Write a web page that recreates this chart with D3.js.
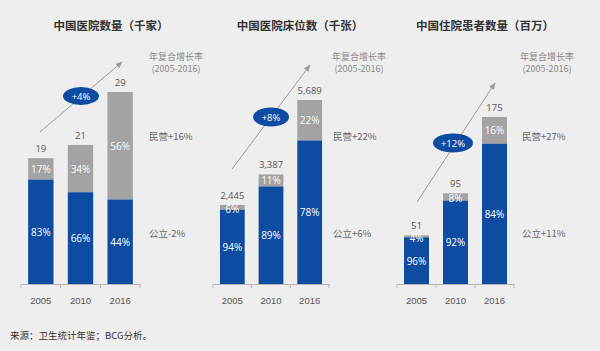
<!DOCTYPE html>
<html><head><meta charset="utf-8">
<script src="https://cdn.jsdelivr.net/npm/d3@7"></script>
<style>
html,body{margin:0;padding:0;background:#efeeef;}
svg{display:block;font-family:"Open Sans","Noto Sans CJK SC",sans-serif;}
</style></head>
<body><svg id="c" width="600" height="351"></svg>
<script>
const categories = ['2005', '2010', '2016'];
const titles = ['中国医院数量（千家）', '中国医院床位数（千张）', '中国住院患者数量（百万）'];
const hospitalTotals = [19, 21, 29];
const hospitalPrivate = [17, 34, 56];
const hospitalPublic = [83, 66, 44];
const bedTotals = [2445, 3387, 5689];
const bedPrivate = [6, 11, 22];
const bedPublic = [94, 89, 78];
const patientTotals = [51, 95, 175];
const patientPrivate = [4, 8, 16];
const patientPublic = [96, 92, 84];
const cagrTotal = ['+4%', '+8%', '+12%'];
const cagrPrivate = ['民营+16%', '民营+22%', '民营+27%'];
const cagrPublic = ['公立-2%', '公立+6%', '公立+11%'];
const cagrHeader = ['年复合增长率', '(2005-2016)'];
const sourceNote = '来源：卫生统计年鉴；BCG分析。';

const BLUE = '#0d4ca0', GRAY = '#a3a3a3';
const svg = d3.select('#c');

const defs = svg.append('defs');
defs.append('marker').attr('id', 'ah').attr('viewBox', '0 0 10 10')
  .attr('refX', 9).attr('refY', 5).attr('markerWidth', 7).attr('markerHeight', 7)
  .attr('orient', 'auto')
  .append('path').attr('d', 'M0,1 L10,5 L0,9 Z').attr('fill', '#999');

const panels = [
  {totals: hospitalTotals, priv: hospitalPrivate, pub: hospitalPublic, fmt: d3.format('d'),
   x0: 21, x1: 140, yTop: 92, titleX: 111, noteX: 176, sideX: 149,
   arrow: [[40, 132], [122, 62]], ell: [81, 96, 18, 9]},
  {totals: bedTotals, priv: bedPrivate, pub: bedPublic, fmt: d3.format(','),
   x0: 213, x1: 329, yTop: 100, titleX: 300, noteX: 359, sideX: 333,
   arrow: [[232, 169], [310, 65]], ell: [271, 117, 18, 9.5]},
  {totals: patientTotals, priv: patientPrivate, pub: patientPublic, fmt: d3.format('d'),
   x0: 397, x1: 514, yTop: 117, titleX: 485, noteX: 547, sideX: 522,
   arrow: [[417, 202], [495, 83]], ell: [453, 143, 20, 9.5]}
];
const base = 284;

panels.forEach((p, i) => {
  const g = svg.append('g');
  const x = d3.scaleBand().domain(categories).range([p.x0, p.x1]).paddingInner(0.36).paddingOuter(0.18);
  const maxT = d3.max(p.totals);
  const y = d3.scaleLinear().domain([0, maxT]).range([base, p.yTop]);

  g.append('text').attr('x', p.titleX).attr('y', 30).attr('text-anchor', 'middle')
    .attr('font-family', '"Noto Sans CJK SC",sans-serif')
    .attr('font-size', 11.5).attr('font-weight', 'bold').attr('fill', '#333').text(titles[i]);

  cagrHeader.forEach((t, k) => {
    g.append('text').attr('x', p.noteX).attr('y', 60 + k * 12).attr('text-anchor', 'middle')
      .attr('font-family', '"Noto Sans CJK SC",sans-serif')
      .attr('font-size', 9).attr('fill', '#8a8a8a').text(t);
  });

  g.append('line').attr('x1', p.arrow[0][0]).attr('y1', p.arrow[0][1])
    .attr('x2', p.arrow[1][0]).attr('y2', p.arrow[1][1])
    .attr('stroke', '#9a9a9a').attr('stroke-width', 1).attr('marker-end', 'url(#ah)');

  const axis = d3.axisBottom(x).tickSize(0).tickPadding(13);
  const ag = g.append('g').attr('transform', `translate(0,${base})`).call(axis);
  ag.select('.domain').attr('stroke', '#b5b5b5');
  ag.selectAll('text').attr('font-size', 9.5).attr('fill', '#555');
  const edges = [p.x0, ...categories.slice(1).map(c => x(c) - x.step() * x.paddingInner() / 2), p.x1];
  ag.selectAll('line.sep').data(edges).join('line').attr('class', 'sep')
    .attr('x1', d => d).attr('x2', d => d).attr('y1', 0).attr('y2', 4).attr('stroke', '#b5b5b5');

  categories.forEach((c, j) => {
    const tot = p.totals[j];
    const pubV = tot * p.pub[j] / 100;
    const bx = x(c), bw = x.bandwidth();
    g.append('rect').attr('x', bx).attr('width', bw)
      .attr('y', y(tot)).attr('height', y(pubV) - y(tot)).attr('fill', GRAY);
    g.append('rect').attr('x', bx).attr('width', bw)
      .attr('y', y(pubV)).attr('height', base - y(pubV)).attr('fill', BLUE);
    const segH = y(pubV) - y(tot);
    const privY = (y(tot) + y(pubV)) / 2 + 4 + (segH < 8 ? 1.5 : 0);
    g.append('text').attr('x', bx + bw / 2).attr('y', privY)
      .attr('text-anchor', 'middle').attr('font-size', 10).attr('fill', '#fff').text(p.priv[j] + '%');
    g.append('text').attr('x', bx + bw / 2).attr('y', (y(pubV) + base) / 2 + 4)
      .attr('text-anchor', 'middle').attr('font-size', 10).attr('fill', '#fff').text(p.pub[j] + '%');
    g.append('text').attr('x', bx + bw / 2).attr('y', y(tot) - 6)
      .attr('text-anchor', 'middle').attr('font-size', 9.5).attr('fill', '#555').text(p.fmt(tot));
  });

  g.append('ellipse').attr('cx', p.ell[0]).attr('cy', p.ell[1]).attr('rx', p.ell[2]).attr('ry', p.ell[3])
    .attr('fill', BLUE);
  g.append('text').attr('x', p.ell[0]).attr('y', p.ell[1] + 3.5).attr('text-anchor', 'middle')
    .attr('font-size', 9.5).attr('fill', '#fff').text(cagrTotal[i]);

  g.append('text').attr('x', p.sideX).attr('y', 140).attr('font-size', 9.5)
    .attr('font-family', '"Noto Sans CJK SC",sans-serif').attr('fill', '#666').text(cagrPrivate[i]);
  g.append('text').attr('x', p.sideX).attr('y', 237).attr('font-size', 9.5)
    .attr('font-family', '"Noto Sans CJK SC",sans-serif').attr('fill', '#666').text(cagrPublic[i]);
});

svg.append('text').attr('x', 10).attr('y', 339).attr('font-size', 9.5)
  .attr('font-family', '"Noto Sans CJK SC",sans-serif').attr('fill', '#333').text(sourceNote);
</script></body></html>
